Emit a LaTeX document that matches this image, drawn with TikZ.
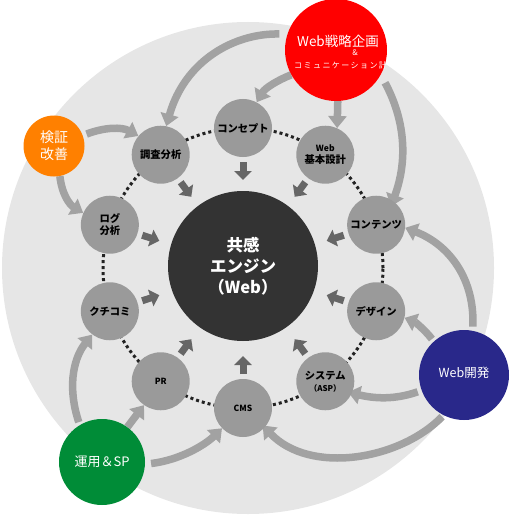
\documentclass[tikz,border=0pt]{standalone}
\usepackage{fontspec}
\setmainfont{Noto Sans CJK JP}
\usetikzlibrary{arrows.meta}
\definecolor{bgc}{HTML}{E6E6E6}
\definecolor{ringc}{HTML}{9A9A9A}
\definecolor{arrc}{HTML}{A2A2A2}
\definecolor{darkc}{HTML}{666666}
\definecolor{corec}{HTML}{333333}
\definecolor{dotc}{HTML}{222222}
\definecolor{redc}{HTML}{FF0000}
\definecolor{orangec}{HTML}{FF8000}
\definecolor{greenc}{HTML}{008C37}
\definecolor{bluec}{HTML}{29288A}
\pgfdeclarelayer{back}
\pgfdeclarelayer{mid}
\pgfsetlayers{back,mid,main}
\begin{document}
\begin{tikzpicture}[x=1pt,y=-1pt,
  ringnode/.style={circle, fill=ringc, minimum size=58pt, inner sep=0pt, align=center,
    font=\bfseries\fontsize{10.3}{12}\selectfont, text=black},
  outer/.style={circle, inner sep=0pt},
  wtext/.style={text=white, inner sep=0pt, align=center},
  lightarr/.style={draw=arrc, line width=7.5pt, -{Triangle[width=18pt,length=12pt]}},
  darkarr/.style={draw=darkc, line width=7pt, -{Triangle[width=17pt,length=9pt]}},
  dotring/.style={draw=dotc, line width=3pt, dash pattern=on 3pt off 3pt}]
\useasboundingbox (0,0) rectangle (510,516);
\begin{pgfonlayer}{back}
  \fill[bgc] (248,268) circle[radius=246pt];
\end{pgfonlayer}
% core
\node[circle, fill=corec, minimum size=150pt, inner sep=0pt, text=white, align=center,
  font=\bfseries\fontsize{16.5}{21}\selectfont] (core) at (243,266) {共感\\エンジン\\（Web）};
% ring nodes
\node[ringnode] (concept) at ({243+140*cos(90)},{268-140*sin(90)}) {コンセプト};
\node[ringnode] (web) at ({243+140*cos(54)},{268-140*sin(54)}) {{\fontsize{8.5}{11}\selectfont Web}\\基本設計};
\node[ringnode] (contents) at ({243+140*cos(18)},{268-140*sin(18)}) {コンテンツ};
\node[ringnode] (design) at ({243+140*cos(-18)},{268-140*sin(-18)}) {デザイン};
\node[ringnode] (system) at ({243+140*cos(-54)},{268-140*sin(-54)}) {システム\\{\fontsize{8}{10}\selectfont （ASP）}};
\node[ringnode] (cms) at ({243+140*cos(-90)},{268-140*sin(-90)}) {{\fontsize{8.5}{10}\selectfont CMS}};
\node[ringnode] (pr) at ({243+140*cos(-126)},{268-140*sin(-126)}) {{\fontsize{8.5}{10}\selectfont PR}};
\node[ringnode] (kuchikomi) at ({243+140*cos(-162)},{268-140*sin(-162)}) {クチコミ};
\node[ringnode] (log) at ({243+140*cos(162)},{268-140*sin(162)}) {ログ\\分析};
\node[ringnode] (chosa) at ({243+140*cos(126)},{268-140*sin(126)}) {調査分析};
% outer nodes
\node[outer, fill=redc, minimum size=102pt] (red) at (336,50) {};
\node[wtext, font=\fontsize{13.5}{15}\selectfont] (redt1) at (338,41) {Web戦略企画};
\node[wtext, font=\fontsize{8}{9}\selectfont] (redt2) at (355,53) {\&};
\node[wtext, anchor=west, font=\fontsize{8}{9}\selectfont\addfontfeature{LetterSpace=18}] (redt3) at (294,65) {コミュニケーション計};
\node[outer, fill=orangec, minimum size=61pt, wtext, font=\fontsize{14}{17}\selectfont] (orange) at (54,146) {検証\\改善};
\node[outer, fill=greenc, minimum size=86pt, wtext, font=\fontsize{13}{15}\selectfont] (green) at (102,462) {運用＆SP};
\node[outer, fill=bluec, minimum size=90pt] (blue) at (464,375) {};
\node[wtext, font=\fontsize{12.5}{15}\selectfont] (bluet) at (464,373) {Web開発};
\begin{pgfonlayer}{mid}
  \draw[dotring] (243,268) circle[radius=140pt];
  \foreach \a in {90,54,18,-18,-54,-90,-126,-162,162,126}{
    \draw[darkarr] ({243+106*cos(\a)},{268-106*sin(\a)}) -- ({243+88*cos(\a)},{268-88*sin(\a)});
  }
  % from red
  \draw[lightarr] (red.209) .. controls (278,80) and (265,88) .. (concept.62);
  \draw[lightarr] (red.-88) -- (web.66);
  \draw[lightarr, shorten <=8pt] (red.162) .. controls (235,33) and (185,60) .. (chosa.79);
  \draw[lightarr, shorten <=9pt, shorten >=-6pt] (red.-29) .. controls (405,120) and (408,160) .. (contents.55);
  % from orange
  \draw[lightarr, shorten <=4pt] (orange.20) .. controls (105,127) and (122,127) .. (chosa.140);
  \draw[lightarr] (orange.-79) .. controls (62,195) and (70,205) .. (log.156);
  % from green
  \draw[lightarr, shorten <=3pt] (green.121) .. controls (68,390) and (72,360) .. (kuchikomi.233);
  \draw[lightarr] (green.54) -- (pr.235);
  \draw[lightarr, shorten <=6pt] (green.-3) .. controls (180,460) and (205,445) .. (cms.224);
  % from blue
  \draw[lightarr, shorten <=4pt] (blue.79) .. controls (475,280) and (450,245) .. (contents.-6);
  \draw[lightarr, shorten <=3pt] (blue.132) .. controls (425,330) and (415,322) .. (design.-13);
  \draw[lightarr, shorten <=4pt, shorten >=-4pt] (blue.200) .. controls (400,398) and (380,400) .. (system.-24);
  \draw[lightarr, shorten <=2pt, shorten >=-3pt] (blue.243) .. controls (400,460) and (310,475) .. (cms.-42);
\end{pgfonlayer}
\end{tikzpicture}
\end{document}
